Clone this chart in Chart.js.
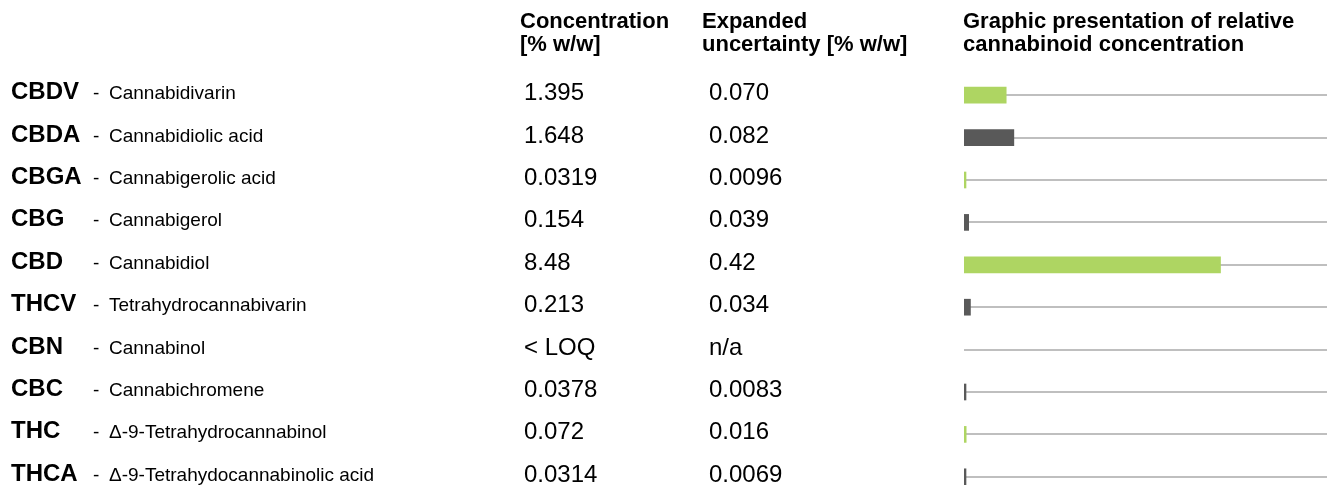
<!DOCTYPE html>
<html>
<head>
<meta charset="utf-8">
<script src="https://cdn.jsdelivr.net/npm/chart.js@4"></script>
<style>
  html, body { margin: 0; padding: 0; background: #fff; overflow: hidden; }
  canvas { display: block; }
</style>
</head>
<body>
<canvas id="cannabinoidChart" width="1328" height="500"></canvas>
<script>
const codes = ["CBDV", "CBDA", "CBGA", "CBG", "CBD", "THCV", "CBN", "CBC", "THC", "THCA"];
const names = [
  "Cannabidivarin",
  "Cannabidiolic acid",
  "Cannabigerolic acid",
  "Cannabigerol",
  "Cannabidiol",
  "Tetrahydrocannabivarin",
  "Cannabinol",
  "Cannabichromene",
  "Δ-9-Tetrahydrocannabinol",
  "Δ-9-Tetrahydocannabinolic acid",
];
const concentrationText = ["1.395", "1.648", "0.0319", "0.154", "8.48", "0.213", "< LOQ", "0.0378", "0.072", "0.0314"];
const concentration = [1.395, 1.648, 0.0319, 0.154, 8.48, 0.213, null, 0.0378, 0.072, 0.0314];
const uncertaintyText = ["0.070", "0.082", "0.0096", "0.039", "0.42", "0.034", "n/a", "0.0083", "0.016", "0.0069"];

const GREEN = "#AED562";
const DARK = "#595959";
const barColors = [GREEN, DARK, GREEN, DARK, GREEN, DARK, DARK, DARK, GREEN, DARK];

const FONT = '"Liberation Sans", Arial, Helvetica, sans-serif';

// table text drawn next to the bars, rows follow the y scale
const tableText = {
  id: "tableText",
  afterDraw(chart) {
    const c = chart.ctx;
    const y = chart.scales.y;
    c.save();
    c.fillStyle = "#000";
    c.textBaseline = "alphabetic";
    c.textAlign = "left";

    // headers
    c.font = "bold 22px " + FONT;
    c.fillText("Concentration", 520, 28);
    c.fillText("[% w/w]", 520, 51);
    c.fillText("Expanded", 702, 28);
    c.fillText("uncertainty [% w/w]", 702, 51);
    c.fillText("Graphic presentation of relative", 963, 28);
    c.fillText("cannabinoid concentration", 963, 51);

    codes.forEach((code, i) => {
      const ry = y.getPixelForValue(i);
      c.font = "bold 24px " + FONT;
      c.fillText(code, 11, ry + 4);
      c.font = "19px " + FONT;
      c.fillText("-", 93, ry + 4);
      c.fillText(names[i], 109, ry + 4);
      c.font = "24px " + FONT;
      c.fillText(concentrationText[i], 524, ry + 5);
      c.fillText(uncertaintyText[i], 709, ry + 5);
    });
    c.restore();
  },
};

new Chart(document.getElementById("cannabinoidChart"), {
  type: "bar",
  data: {
    labels: codes,
    datasets: [
      {
        data: concentration,
        backgroundColor: barColors,
        borderWidth: 0,
        barThickness: 16,
        minBarLength: 2,
      },
    ],
  },
  options: {
    indexAxis: "y",
    responsive: false,
    animation: false,
    layout: { padding: { left: 964, right: 1, top: 74, bottom: 2 } },
    plugins: {
      legend: { display: false },
      tooltip: { enabled: false },
    },
    scales: {
      x: { display: false, min: 0, max: 12 },
      y: {
        display: true,
        ticks: { display: false },
        border: { display: false },
        grid: {
          offset: false,
          drawTicks: false,
          color: "#BFBFBF",
          lineWidth: 2,
        },
      },
    },
  },
  plugins: [tableText],
});
</script>
</body>
</html>
